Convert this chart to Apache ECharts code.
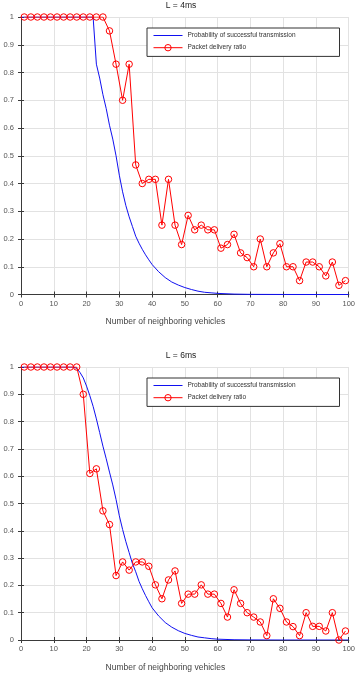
<!DOCTYPE html>
<html>
<head>
<meta charset="utf-8">
<script src="https://cdn.jsdelivr.net/npm/echarts@6/dist/echarts.min.js"></script>
<style>
html, body { margin: 0; padding: 0; background: #fff; }
#main { width: 358px; height: 673px; }
</style>
</head>
<body>
<div id="main"></div>
<script>
// x ticks / y ticks
var xTicks = [0, 10, 20, 30, 40, 50, 60, 70, 80, 90, 100];
var yTicks = [0, 0.1, 0.2, 0.3, 0.4, 0.5, 0.6, 0.7, 0.8, 0.9, 1];
var titles = ['L = 4ms', 'L = 6ms'];
var seriesNames = ['Probability of successful transmission', 'Packet delivery ratio'];

// packet delivery ratio, sampled at odd vehicle counts
var pdrX = [1, 3, 5, 7, 9, 11, 13, 15, 17, 19, 21, 23, 25, 27, 29, 31, 33, 35, 37, 39,
            41, 43, 45, 47, 49, 51, 53, 55, 57, 59, 61, 63, 65, 67, 69, 71, 73, 75, 77, 79,
            81, 83, 85, 87, 89, 91, 93, 95, 97, 99];
var pdr4 = [1, 1, 1, 1, 1, 1, 1, 1, 1, 1, 1, 1, 1, 0.95, 0.83, 0.70, 0.83, 0.467, 0.40, 0.415,
            0.415, 0.25, 0.415, 0.25, 0.18, 0.285, 0.233, 0.25, 0.233, 0.233, 0.167, 0.18, 0.217, 0.15, 0.133, 0.10, 0.20, 0.10, 0.15, 0.183,
            0.10, 0.10, 0.05, 0.117, 0.117, 0.10, 0.067, 0.117, 0.033, 0.05];
var pdr6 = [1, 1, 1, 1, 1, 1, 1, 1, 1, 0.9, 0.61, 0.627, 0.473, 0.423, 0.236, 0.286, 0.256, 0.286, 0.286, 0.27,
            0.202, 0.151, 0.22, 0.253, 0.134, 0.168, 0.168, 0.202, 0.168, 0.168, 0.134, 0.084, 0.184, 0.134, 0.10, 0.084, 0.066, 0.016, 0.151, 0.116,
            0.066, 0.049, 0.016, 0.10, 0.05, 0.05, 0.033, 0.10, 0.0, 0.033];

// probability of successful transmission
var probX4 = [0, 22, 23, 24, 25, 26, 27, 28, 29, 30, 31, 32, 33, 34, 35, 36, 37, 38, 39, 40,
              42, 44, 46, 48, 50, 52, 54, 56, 58, 60, 65, 70, 80, 90, 100];
var prob4 = [1, 1, 0.83, 0.78, 0.72, 0.67, 0.61, 0.56, 0.50, 0.43, 0.37, 0.32, 0.28, 0.245, 0.21, 0.185, 0.163, 0.143, 0.125, 0.108,
             0.082, 0.061, 0.045, 0.034, 0.025, 0.018, 0.012, 0.008, 0.006, 0.004, 0.0015, 0.0005, 0.0001, 0, 0];
var probX6 = [0, 16, 17, 18, 19, 20, 21, 22, 23, 24, 25, 26, 27, 28, 29, 30, 31, 32, 33, 34, 35, 36, 37, 38, 39, 40,
              42, 44, 46, 48, 50, 52, 54, 56, 58, 60, 65, 70, 80, 100];
var prob6 = [1, 1, 0.995, 0.98, 0.96, 0.93, 0.895, 0.856, 0.81, 0.76, 0.71, 0.664, 0.615, 0.568, 0.515, 0.455, 0.405, 0.36, 0.32, 0.28, 0.25, 0.215, 0.188, 0.163, 0.14, 0.118,
             0.088, 0.064, 0.047, 0.034, 0.024, 0.017, 0.011, 0.008, 0.005, 0.003, 0.001, 0.0004, 0, 0];

function pairs(xs, ys) {
    var out = [];
    for (var i = 0; i < xs.length; i++) {
        out.push([xs[i], ys[i]]);
    }
    return out;
}

var font = 'Liberation Sans, Arial, sans-serif';
var boxColor = '#3a3a3a';
var gridColor = '#e2e2e2';
var labelColor = '#555';
var blue = '#1010f0';
var red = '#ff0000';

var gridTops = [17, 367];
var gridH = 277.5;

var grids = [], xAxes = [], yAxes = [], series = [], legends = [], titleList = [];

for (var g = 0; g < 2; g++) {
    grids.push({ left: 21, top: gridTops[g], width: 329, height: gridH });

    // bottom x axis
    xAxes.push({
        type: 'value', gridIndex: g, position: 'bottom',
        min: xTicks[0], max: xTicks[xTicks.length - 1], interval: 10,
        axisLine: { lineStyle: { color: boxColor, width: 1 } },
        axisTick: { inside: true, length: 3, lineStyle: { color: boxColor } },
        axisLabel: { color: labelColor, fontSize: 7.5, fontFamily: font, margin: 5 },
        splitLine: { show: true, lineStyle: { color: gridColor, width: 1 } },
        name: 'Number of neighboring vehicles',
        nameLocation: 'middle', nameGap: 23,
        nameTextStyle: { color: '#444', fontSize: 8.5, fontFamily: font, padding: [0, 39, 0, 0] }
    });
    // top x axis (box)
    xAxes.push({
        type: 'value', gridIndex: g, position: 'top',
        min: xTicks[0], max: xTicks[xTicks.length - 1], interval: 10,
        axisLine: { lineStyle: { color: boxColor, width: 1 } },
        axisTick: { inside: true, length: 3, lineStyle: { color: boxColor } },
        axisLabel: { show: false },
        splitLine: { show: false }
    });
    // left y axis
    yAxes.push({
        type: 'value', gridIndex: g, position: 'left',
        min: yTicks[0], max: yTicks[yTicks.length - 1], interval: 0.1,
        axisLine: { show: true, lineStyle: { color: boxColor, width: 1 } },
        axisTick: { show: true, inside: true, length: 3, lineStyle: { color: boxColor } },
        axisLabel: { color: labelColor, fontSize: 7.5, fontFamily: font, margin: 7 },
        splitLine: { show: true, lineStyle: { color: gridColor, width: 1 } }
    });
    // right y axis (box)
    yAxes.push({
        type: 'value', gridIndex: g, position: 'right',
        min: yTicks[0], max: yTicks[yTicks.length - 1], interval: 0.1,
        axisLine: { show: true, lineStyle: { color: boxColor, width: 1 } },
        axisTick: { show: true, inside: true, length: 3, lineStyle: { color: boxColor } },
        axisLabel: { show: false },
        splitLine: { show: false }
    });

    series.push({
        name: seriesNames[0], type: 'line',
        xAxisIndex: g * 2, yAxisIndex: g * 2,
        data: g === 0 ? pairs(probX4, prob4) : pairs(probX6, prob6),
        symbol: 'none',
        lineStyle: { color: blue, width: 1 },
        itemStyle: { color: blue },
        z: 3
    });
    series.push({
        name: seriesNames[1], type: 'line',
        xAxisIndex: g * 2, yAxisIndex: g * 2,
        data: pairs(pdrX, g === 0 ? pdr4 : pdr6),
        symbol: 'circle', symbolSize: 6.5,
        lineStyle: { color: red, width: 1 },
        itemStyle: { color: 'rgba(255,255,255,0)', borderColor: red, borderWidth: 1 },
        z: 4
    });

    legends.push({
        orient: 'vertical', left: 147, top: gridTops[g] + 11,
        data: [
            { name: seriesNames[0], itemStyle: { opacity: 0 }, lineStyle: { color: blue, width: 1 } },
            { name: seriesNames[1], itemStyle: { color: 'rgba(255,255,255,0)', borderColor: red, borderWidth: 1 }, lineStyle: { color: red, width: 1 } }
        ],
        itemWidth: 29, itemHeight: 8, itemGap: 5,
        padding: [4, 44, 5, 6],
        borderColor: '#333', borderWidth: 1,
        backgroundColor: '#fff',
        lineStyle: { width: 1 },
        itemStyle: { borderWidth: 1 },
        textStyle: { color: '#333', fontSize: 6.5, fontFamily: font },
        selectedMode: false
    });

    titleList.push({
        text: titles[g], left: 181, top: gridTops[g] - 16, padding: 0,
        textAlign: 'center',
        textStyle: { color: '#222', fontSize: 8.5, fontWeight: 'normal', fontFamily: font }
    });
}

var myChart = echarts.init(document.getElementById('main'));
var option = {
    animation: false,
    backgroundColor: '#fff',
    title: titleList,
    legend: legends,
    grid: grids,
    xAxis: xAxes,
    yAxis: yAxes,
    series: series
};
myChart.setOption(option);
</script>
</body>
</html>
